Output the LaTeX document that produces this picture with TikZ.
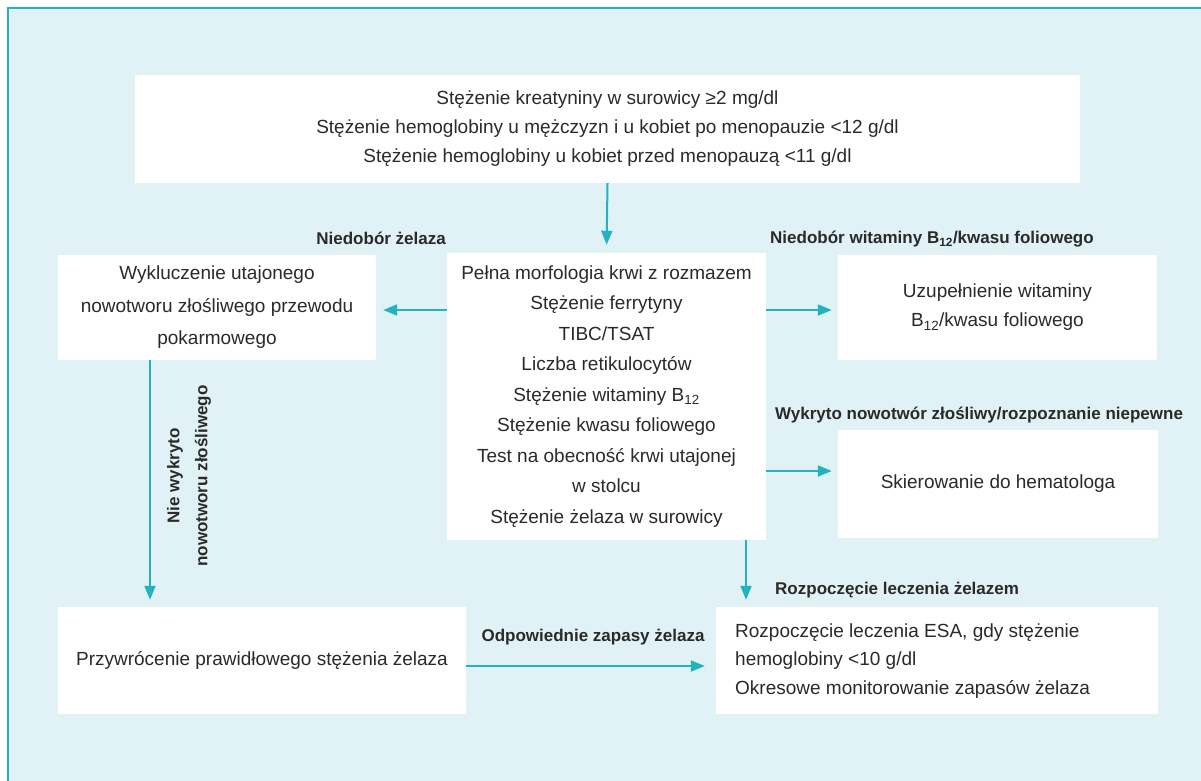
\documentclass[tikz,border=0pt]{standalone}
\usepackage{fontspec}
\setmainfont{Liberation Sans}
\usetikzlibrary{arrows.meta}
\definecolor{bgc}{HTML}{E0F2F5}
\definecolor{tealc}{HTML}{22B2C0}
\definecolor{txt}{HTML}{2A2A2A}
\tikzset{
  box/.style={fill=white, draw=none, inner sep=0pt, align=center, text=txt, font=\fontsize{19}{30.5}\selectfont},
  lbl/.style={inner sep=0pt, text=txt, font=\fontsize{17}{20}\selectfont\bfseries},
  arr/.style={draw=tealc, line width=2pt, -{Triangle[length=14pt,width=11pt]}},
}
\begin{document}
\begin{tikzpicture}[x=1pt,y=-1pt]
\useasboundingbox (0,0) rectangle (1201,781);
\fill[white] (0,0) rectangle (1201,781);
\fill[bgc] (8,8) rectangle (1201,781);
\draw[tealc, line width=2.5pt] (8,781) -- (8,8) -- (1201,8);

\node[box, minimum width=945pt, minimum height=108pt, font=\fontsize{19}{29}\selectfont] (top) at (607.5,129)
  {Stężenie kreatyniny w surowicy ≥2 mg/dl\\Stężenie hemoglobiny u mężczyzn i u kobiet po menopauzie <12 g/dl\\Stężenie hemoglobiny u kobiet przed menopauzą <11 g/dl};
\node[box, minimum width=318pt, minimum height=105pt, font=\fontsize{19}{32.5}\selectfont] (left) at (217,307.5)
  {Wykluczenie utajonego\\nowotworu złośliwego przewodu\\pokarmowego};
\node[box, minimum width=319pt, minimum height=287pt] (center) at (606.5,396.5)
  {Pełna morfologia krwi z rozmazem\\Stężenie ferrytyny\\TIBC/TSAT\\Liczba retikulocytów\\Stężenie witaminy B\textsubscript{12}\\Stężenie kwasu foliowego\\Test na obecność krwi utajonej\\w stolcu\\Stężenie żelaza w surowicy};
\node[box, minimum width=319pt, minimum height=105pt, font=\fontsize{19}{29}\selectfont] (right) at (997.5,307.5)
  {Uzupełnienie witaminy\\B\textsubscript{12}/kwasu foliowego};
\node[box, minimum width=320pt, minimum height=108pt] (hemat) at (998,484)
  {Skierowanie do hematologa};
\node[box, minimum width=442pt, minimum height=107pt] (br) at (937,660.5) {};
\node[box, anchor=west, align=left, fill=none, font=\fontsize{19}{28.5}\selectfont] (brtext) at (735,661)
  {Rozpoczęcie leczenia ESA, gdy stężenie\\hemoglobiny <10 g/dl\\Okresowe monitorowanie zapasów żelaza};
\node[box, minimum width=408pt, minimum height=107pt] (bl) at (262,660.5)
  {Przywrócenie prawidłowego stężenia żelaza};

\node[lbl, anchor=east] (l1) at (446,238) {Niedobór żelaza};
\node[lbl, anchor=west] (l2) at (770,239) {Niedobór witaminy B\textsubscript{12}/kwasu foliowego};
\node[lbl, anchor=west] (l3) at (775,415) {Wykryto nowotwór złośliwy/rozpoznanie niepewne};
\node[lbl, anchor=west] (l4) at (775,590) {Rozpoczęcie leczenia żelazem};
\node[lbl] (l5) at (593,637) {Odpowiednie zapasy żelaza};
\node[lbl, rotate=90] (l6) at (175,476) {Nie wykryto};
\node[lbl, rotate=90] (l7) at (203,476) {nowotworu złośliwego};

\draw[arr, shorten >=8pt] (top.south) -- (center.north);
\draw[arr, shorten >=7pt] (center.west |- 0,310) -- (left.east |- 0,310);
\draw[arr, shorten >=6pt] (center.east |- 0,310) -- (right.west |- 0,310);
\draw[arr, shorten >=6pt] (center.east |- 0,471) -- (hemat.west |- 0,471);
\draw[arr, shorten >=7pt] (center.south -| 746,0) -- (br.north -| 746,0);
\draw[arr, shorten >=7pt] (left.south -| 150,0) -- (bl.north -| 150,0);
\draw[arr, shorten >=11pt] (bl.east |- 0,666) -- (br.west |- 0,666);
\end{tikzpicture}
\end{document}
